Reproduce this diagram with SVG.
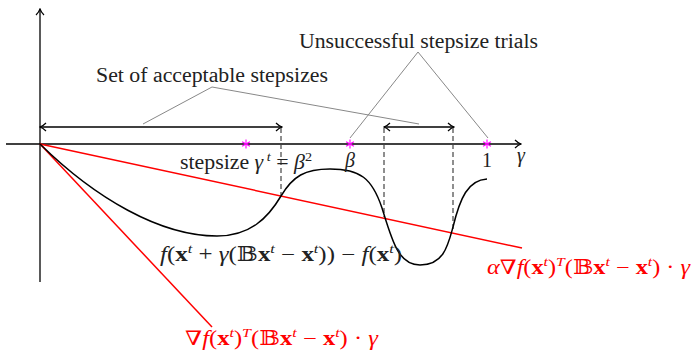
<svg xmlns="http://www.w3.org/2000/svg" width="695" height="352" viewBox="0 0 695 352">
<style>
text{font-family:"Liberation Serif","DejaVu Serif",serif;font-size:20px;fill:#222}
.i{font-style:italic}
.b{font-weight:bold}
.s{font-size:13px;font-style:italic}
.red{fill:#f00}
.ax{stroke:#000;stroke-width:1.3;fill:none}
.dbl{stroke:#000;stroke-width:1.3;fill:none;marker-start:url(#ah);marker-end:url(#ah)}
.gray{stroke:#888;stroke-width:1;fill:none}
.dash{stroke:#444;stroke-width:1.2;stroke-dasharray:5,3;fill:none}
.rl{stroke:#f00;stroke-width:1.5;fill:none}
.star{stroke:#f0f;stroke-width:1.1}
</style>
<defs>
<marker id="ah" viewBox="0 0 10 10" refX="9" refY="5" markerWidth="10" markerHeight="10" markerUnits="userSpaceOnUse" orient="auto-start-reverse">
<path d="M3,1 Q6,4 9,5 Q6,6 3,9" fill="none" stroke="#000" stroke-width="1.2"/>
</marker>
<g id="st"><line x1="0" y1="-4.5" x2="0" y2="4.5"/><line x1="-3.9" y1="-2.25" x2="3.9" y2="2.25"/><line x1="-3.9" y1="2.25" x2="3.9" y2="-2.25"/></g>
</defs>
<g id="axes">
<line class="ax" x1="40" y1="282" x2="40" y2="9" marker-end="url(#ah)"/>
<line class="ax" x1="6" y1="144" x2="521" y2="144" marker-end="url(#ah)"/>
</g>
<g id="connectors">
<line class="dbl" x1="40" y1="127" x2="282" y2="127"/>
<line class="dbl" x1="384" y1="127" x2="454" y2="127"/>
<line class="dash" x1="281" y1="128" x2="281" y2="196"/>
<line class="dash" x1="384" y1="128" x2="384" y2="217"/>
<line class="dash" x1="453" y1="128" x2="453" y2="232"/>
<polyline class="gray" points="143,124 212,87 419,124"/>
<polyline class="gray" points="350,138 418,52 488,138"/>
<line class="rl" x1="40" y1="144" x2="522" y2="248"/>
<line class="rl" x1="40" y1="144" x2="212" y2="327"/>
<path d="M40,144 C95,198 160,236 217,236 C250,236 268,218 281,196 C293,176 305,169 330,169 C360,169 372,178 382,208 C392,240 398,265 420,265 C444,265 448,245 453,227 C460,198 468,180 487,179" fill="none" stroke="#000" stroke-width="1.5"/>
</g>
<g id="stars" class="star">
<use href="#st" x="246" y="144"/>
<use href="#st" x="350" y="144"/>
<use href="#st" x="487" y="144"/>
</g>
<g id="label-acceptable"><text x="96" y="82" textLength="232" lengthAdjust="spacingAndGlyphs">Set of acceptable stepsizes</text></g>
<g id="label-unsuccessful"><text x="299" y="48" textLength="239" lengthAdjust="spacingAndGlyphs">Unsuccessful stepsize trials</text></g>
<g id="label-stepsize"><text x="180" y="169" textLength="132" lengthAdjust="spacingAndGlyphs">stepsize <tspan class="i">γ</tspan><tspan class="s" dy="-8"> t</tspan><tspan dy="8"> = </tspan><tspan class="i">β</tspan><tspan class="s" dy="-8" style="font-style:normal">2</tspan></text></g>
<g id="label-beta"><text x="350" y="167" text-anchor="middle" class="i">β</text></g>
<g id="label-one"><text x="487" y="167" text-anchor="middle">1</text></g>
<g id="label-gamma"><text x="521" y="162" text-anchor="middle" class="i">γ</text></g>
<g id="label-f"><text x="160" y="261" textLength="242" lengthAdjust="spacingAndGlyphs"><tspan class="i">f</tspan>(<tspan class="b">x</tspan><tspan class="s" dy="-8">t</tspan><tspan dy="8"> + </tspan><tspan class="i">γ</tspan>(𝔹<tspan class="b">x</tspan><tspan class="s" dy="-8">t</tspan><tspan dy="8"> − </tspan><tspan class="b">x</tspan><tspan class="s" dy="-8">t</tspan><tspan dy="8">)) − </tspan><tspan class="i">f</tspan>(<tspan class="b">x</tspan><tspan class="s" dy="-8">t</tspan><tspan dy="8">)</tspan></text></g>
<g id="label-alpha"><text class="red" x="487" y="274" textLength="203" lengthAdjust="spacingAndGlyphs"><tspan class="i">α</tspan>∇<tspan class="i">f</tspan>(<tspan class="b">x</tspan><tspan class="s" dy="-8">t</tspan><tspan dy="8">)</tspan><tspan class="s" dy="-8">T</tspan><tspan dy="8">(𝔹</tspan><tspan class="b">x</tspan><tspan class="s" dy="-8">t</tspan><tspan dy="8"> − </tspan><tspan class="b">x</tspan><tspan class="s" dy="-8">t</tspan><tspan dy="8">) · </tspan><tspan class="i">γ</tspan></text></g>
<g id="label-grad"><text class="red" x="185" y="345" textLength="193" lengthAdjust="spacingAndGlyphs"><tspan>∇</tspan><tspan class="i">f</tspan>(<tspan class="b">x</tspan><tspan class="s" dy="-8">t</tspan><tspan dy="8">)</tspan><tspan class="s" dy="-8">T</tspan><tspan dy="8">(𝔹</tspan><tspan class="b">x</tspan><tspan class="s" dy="-8">t</tspan><tspan dy="8"> − </tspan><tspan class="b">x</tspan><tspan class="s" dy="-8">t</tspan><tspan dy="8">) · </tspan><tspan class="i">γ</tspan></text></g>
</svg>
